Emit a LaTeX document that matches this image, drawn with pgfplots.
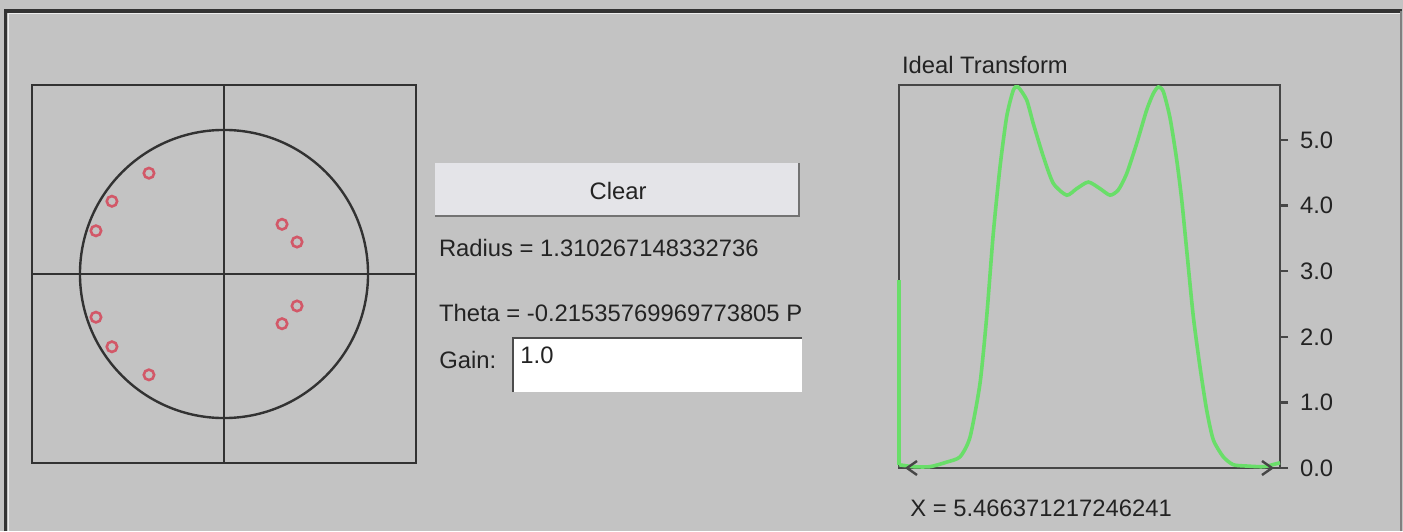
\documentclass[border=0pt]{standalone}
\usepackage{pgfplots}
\pgfplotsset{compat=1.18}
\usepackage{pgfplotstable}
\usepackage{fontspec}
\setmainfont{Liberation Sans}
\definecolor{bg}{RGB}{195,195,195}
\definecolor{frame}{RGB}{50,50,50}
\definecolor{frame2}{RGB}{70,70,70}
\definecolor{pzred}{RGB}{210,88,104}
\definecolor{lgreen}{RGB}{105,222,105}
\definecolor{btn}{RGB}{228,228,232}
\definecolor{txt}{RGB}{35,35,35}
\newcommand\uifont{\fontsize{11.9pt}{14pt}\selectfont}

\pgfplotstableread{
x y
-0.521 0.70
-0.778 0.505
-0.889 0.30
-0.889 -0.30
-0.778 -0.505
-0.521 -0.70
0.403 0.345
0.507 0.222
0.507 -0.222
0.403 -0.345
}\zeros

\pgfplotstableread{
x y
0 0.05
14.3 0.02
31 0.02
47.7 0.09
61 0.17
71 0.47
81 1.29
87.7 2.31
94.3 3.58
101 4.59
107.7 5.36
114.3 5.76
119 5.81
127.7 5.61
134.3 5.25
144.3 4.75
154.3 4.34
167.7 4.16
177.7 4.26
189.3 4.36
201 4.26
211 4.16
219.3 4.24
227.7 4.49
237.7 4.95
247.7 5.46
254.3 5.71
259.3 5.81
264.3 5.74
271 5.34
277.7 4.70
282.7 4.09
287.7 3.32
294.3 2.31
301 1.54
307.7 0.88
314.3 0.43
324.3 0.17
334.3 0.05
347.7 0.03
364.3 0.02
376 0.06
381 0.08
}\transform

\begin{document}
\begin{tikzpicture}
\fill[bg] (0,0) rectangle (701.5pt,265.5pt);
% applet frame
\draw[line width=1.6pt, black!80] (2.75pt,0) -- (2.75pt,260pt) -- (701pt,260pt);
\draw[line width=0.8pt, white!70!bg] (4.3pt,0) -- (4.3pt,258.7pt) -- (700pt,258.7pt);
\draw[line width=1pt, gray] (700.6pt,260pt) -- (700.6pt,0);

% Clear button
\fill[btn] (217.5pt,157pt) rectangle (400pt,184pt);
\draw[line width=1.2pt, gray!90!black] (217.5pt,157.6pt) -- (399.4pt,157.6pt) -- (399.4pt,184pt);
\node[font=\uifont, text=txt, inner sep=0pt] at (309pt,169.8pt) {Clear};

% labels
\node[font=\uifont, text=txt, inner sep=0pt, anchor=west] at (219.3pt,141.6pt) {Radius = 1.310267148332736};
\node[font=\uifont, text=txt, inner sep=0pt, anchor=west] at (219.3pt,108.8pt) {Theta = -0.21535769969773805 P};
\node[font=\uifont, text=txt, inner sep=0pt, anchor=west] at (219.5pt,85.3pt) {Gain:};

% text field
\fill[white] (255.8pt,69.7pt) rectangle (400.8pt,97.2pt);
\draw[line width=1.2pt, gray!60!black] (256.4pt,69.7pt) -- (256.4pt,96.6pt) -- (400.8pt,96.6pt);
\node[font=\uifont, text=txt, inner sep=0pt, anchor=west] at (260pt,88pt) {1.0};

% pole-zero plot
\begin{axis}[at={(16pt,34pt)}, anchor=south west, scale only axis,
  width=192pt, height=189pt,
  xmin=-1.333, xmax=1.333, ymin=-1.312, ymax=1.312,
  xtick=\empty, ytick=\empty,
  axis line style={frame, line width=1.4pt}, clip=false]
\draw[frame, line width=1.2pt] (axis cs:0,0) ellipse [x radius=1, y radius=1];
\draw[frame, line width=1.4pt] (axis cs:-1.333,0) -- (axis cs:1.333,0);
\draw[frame, line width=1.4pt] (axis cs:0,-1.312) -- (axis cs:0,1.312);
\addplot[only marks, mark=o, mark size=2.6pt, pzred, mark options={line width=1.3pt}] table {\zeros};
\end{axis}

% transform plot
\node[font=\uifont, text=txt, inner sep=0pt, anchor=west] at (450.8pt,233pt) {Ideal Transform};
\begin{axis}[at={(449.5pt,31.5pt)}, anchor=south west, scale only axis,
  width=190.5pt, height=191.5pt,
  xmin=0, xmax=381, ymin=0, ymax=5.84,
  xtick=\empty, ytick={0,1,2,3,4,5},
  yticklabels={0.0,1.0,2.0,3.0,4.0,5.0},
  ytick pos=right, yticklabel pos=right,
  tick align=outside, major tick length=4pt,
  tick style={frame2, line width=1.2pt},
  axis line style={frame2, line width=1.4pt},
  yticklabel style={font=\uifont, text=txt, xshift=2.5pt},
  clip=false]
\addplot[lgreen, line width=1.8pt] coordinates {(0,2.87) (0,0.05)};
\addplot[lgreen, line width=1.8pt, smooth, tension=0.4] table {\transform};
\addplot[frame2, line width=1.2pt] coordinates {(18,0.107) (8,0) (18,-0.107)};
\addplot[frame2, line width=1.2pt] coordinates {(363,0.107) (373,0) (363,-0.107)};
\end{axis}
\node[font=\uifont, text=txt, inner sep=0pt, anchor=west] at (455pt,11.3pt) {X = 5.466371217246241};

\pgfresetboundingbox
\useasboundingbox (0,0) rectangle (701.5pt,265.5pt);
\end{tikzpicture}
\end{document}
